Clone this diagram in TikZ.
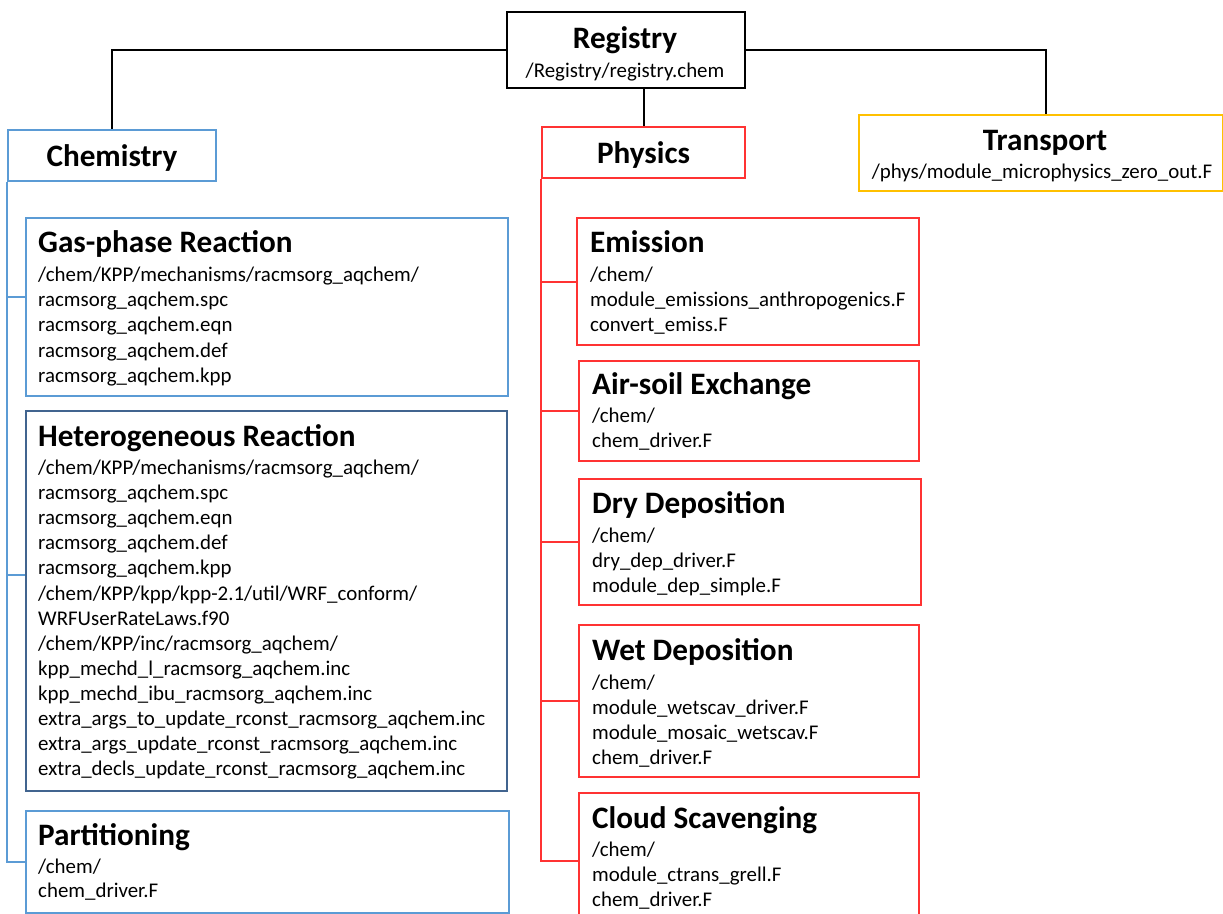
\documentclass[tikz,border=0pt]{standalone}
\usepackage{fontspec}
\setmainfont{Carlito}
\usetikzlibrary{positioning,calc}

\definecolor{chemblue}{HTML}{5B9BD5}
\definecolor{hetblue}{HTML}{41648F}
\definecolor{physred}{HTML}{FF3333}
\definecolor{transyellow}{HTML}{FFC000}

\newcommand{\headfont}{\fontsize{31.2}{37}\selectfont\bfseries}
\newcommand{\pathfont}{\fontsize{20.9}{25}\selectfont}

\tikzset{
  frame/.style={draw, line width=2pt, inner sep=0pt, anchor=north west},
  chemframe/.style={frame, draw=chemblue},
  hetframe/.style={frame, draw=hetblue},
  physframe/.style={frame, draw=physred},
  grouptext/.style={font=\headfont, text height=22pt, text depth=1pt},
  headtext/.style={anchor=base west, inner sep=0pt, font=\headfont},
  pathtext/.style={anchor=base west, inner sep=0pt, font=\pathfont},
  link/.style={line width=2pt},
  chemlink/.style={link, draw=chemblue},
  physlink/.style={link, draw=physred},
}

\begin{document}
\begin{tikzpicture}[x=1pt, y=-1pt]
    \useasboundingbox (0,0) rectangle (1223,913);

    % Registry
    \node [frame, minimum width=238pt, minimum height=76pt] (reg) at (506,11) {};
    \node [font=\headfont, anchor=base, inner sep=0pt] (regtitle) at (625,48) {Registry};
    \node [font=\pathfont, anchor=base, inner sep=0pt] (regpath) at (625,77) {/Registry/registry.chem};

    % top level groups
    \node [chemframe, grouptext, minimum width=208pt, minimum height=51pt] (chem) at (7,129) {Chemistry};
    \node [physframe, grouptext, minimum width=203pt, minimum height=51pt] (phys) at (541,126) {Physics};
    \node [frame, draw=transyellow, minimum width=364pt, minimum height=76pt] (trans) at (858,114) {};
    \node [font=\headfont, anchor=base, inner sep=0pt] (transtitle) at (1045,150) {Transport};
    \node [font=\pathfont, anchor=base, inner sep=0pt] (transpath) at (1042,178) {/phys/module\_microphysics\_zero\_out.F};

    \draw [link] (reg.west) -| (chem.north);
    \draw [link] (reg.east) -| ($(trans.north)+(5,0)$);
    \draw [link] (reg.south -| phys.north) -- (phys.north);

    % Chemistry
    \node [chemframe, minimum width=482pt, minimum height=178pt] (gas) at (25,217) {};
    \node [headtext] (gastitle) at (38,252.7) {Gas-phase Reaction};
    \foreach \f [count=\i from 0] in {/chem/KPP/mechanisms/racmsorg\_aqchem/, racmsorg\_aqchem.spc, racmsorg\_aqchem.eqn, racmsorg\_aqchem.def, racmsorg\_aqchem.kpp}
        \node [pathtext] (gas\i) at (38,{281.7+25.1*\i}) {\f};

    \node [hetframe, minimum width=481pt, minimum height=380pt] (het) at (25,410) {};
    \node [headtext] (hettitle) at (38,446.5) {Heterogeneous Reaction};
    \foreach \f [count=\i from 0] in {/chem/KPP/mechanisms/racmsorg\_aqchem/, racmsorg\_aqchem.spc, racmsorg\_aqchem.eqn, racmsorg\_aqchem.def, racmsorg\_aqchem.kpp, /chem/KPP/kpp/kpp-2.1/util/WRF\_conform/, WRFUserRateLaws.f90, /chem/KPP/inc/racmsorg\_aqchem/, kpp\_mechd\_l\_racmsorg\_aqchem.inc, kpp\_mechd\_ibu\_racmsorg\_aqchem.inc, extra\_args\_to\_update\_rconst\_racmsorg\_aqchem.inc, extra\_args\_update\_rconst\_racmsorg\_aqchem.inc, extra\_decls\_update\_rconst\_racmsorg\_aqchem.inc}
        \node [pathtext] (het\i) at (38,{474.5+25.1*\i}) {\f};

    \node [chemframe, minimum width=483pt, minimum height=102pt] (part) at (25,810) {};
    \node [headtext] (parttitle) at (38,845.5) {Partitioning};
    \foreach \f [count=\i from 0] in {/chem/, chem\_driver.F}
        \node [pathtext] (part\i) at (38,{873.3+24.6*\i}) {\f};

    \coordinate (gasin) at ($(gas.north west)+(0,80)$);
    \coordinate (hetin) at ($(het.north west)+(0,165)$);
    \draw [chemlink] (chem.south west) |- (part.west);
    \draw [chemlink] (chem.south west |- gasin) -- (gasin);
    \draw [chemlink] (chem.south west |- hetin) -- (hetin);

    % Physics
    \node [physframe, minimum width=342pt, minimum height=127pt] (emis) at (576,217) {};
    \node [headtext] (emistitle) at (590,252.7) {Emission};
    \foreach \f [count=\i from 0] in {/chem/, module\_emissions\_anthropogenics.F, convert\_emiss.F}
        \node [pathtext] (emis\i) at (590,{281.7+25*\i}) {\f};

    \node [physframe, minimum width=340pt, minimum height=100pt] (air) at (578,360) {};
    \node [headtext] (airtitle) at (592,394) {Air-soil Exchange};
    \foreach \f [count=\i from 0] in {/chem/, chem\_driver.F}
        \node [pathtext] (air\i) at (592,{422.7+25*\i}) {\f};

    \node [physframe, minimum width=342pt, minimum height=126pt] (dry) at (578,478) {};
    \node [headtext] (drytitle) at (592,513.3) {Dry Deposition};
    \foreach \f [count=\i from 0] in {/chem/, dry\_dep\_driver.F, module\_dep\_simple.F}
        \node [pathtext] (dry\i) at (592,{542.7+25*\i}) {\f};

    \node [physframe, minimum width=340pt, minimum height=152pt] (wet) at (578,624) {};
    \node [headtext] (wettitle) at (592,660) {Wet Deposition};
    \foreach \f [count=\i from 0] in {/chem/, module\_wetscav\_driver.F, module\_mosaic\_wetscav.F, chem\_driver.F}
        \node [pathtext] (wet\i) at (592,{689.3+25*\i}) {\f};

    \node [physframe, minimum width=340pt, minimum height=136pt] (cloud) at (578,792) {};
    \node [headtext] (cloudtitle) at (592,828.3) {Cloud Scavenging};
    \foreach \f [count=\i from 0] in {/chem/, module\_ctrans\_grell.F, chem\_driver.F}
        \node [pathtext] (cloud\i) at (592,{856.7+25*\i}) {\f};

    \draw [physlink] (phys.south west) |- (cloud.west);
    \foreach \b in {emis,air,dry,wet}
        \draw [physlink] (phys.south west |- \b.west) -- (\b.west);
\end{tikzpicture}
\end{document}
